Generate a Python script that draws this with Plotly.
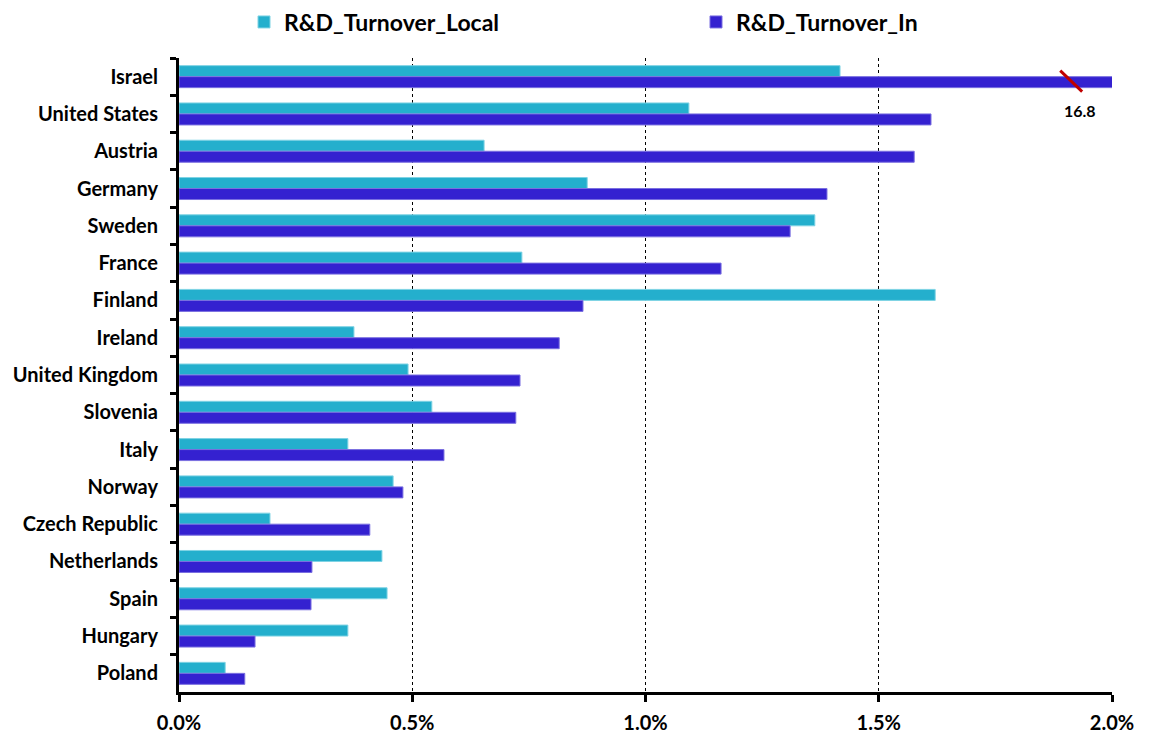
import plotly.graph_objects as go

countries = ["Israel", "United States", "Austria", "Germany", "Sweden", "France",
             "Finland", "Ireland", "United Kingdom", "Slovenia", "Italy", "Norway",
             "Czech Republic", "Netherlands", "Spain", "Hungary", "Poland"]
turnover_local = [1.417, 1.093, 0.654, 0.875, 1.363, 0.735, 1.621, 0.375, 0.491,
                  0.542, 0.362, 0.459, 0.195, 0.435, 0.446, 0.362, 0.099]
turnover_in = [16.8, 1.612, 1.576, 1.389, 1.310, 1.162, 0.866, 0.815, 0.731,
               0.722, 0.568, 0.480, 0.409, 0.285, 0.283, 0.163, 0.141]
x_ticks = [0.0, 0.5, 1.0, 1.5, 2.0]
x_max = 2.0

FONT = "Lato"

fig = go.Figure()
fig.add_trace(go.Bar(y=countries, x=turnover_local, orientation="h",
                     name="R&D_Turnover_Local", legend="legend",
                     marker=dict(color="#24AFCD", line=dict(color="#7FD3E4", width=1))))
fig.add_trace(go.Bar(y=countries, x=turnover_in, orientation="h",
                     name="R&D_Turnover_In", legend="legend2",
                     marker=dict(color="#3421D0", line=dict(color="#7A6FE0", width=1))))

# break mark on the clipped Israel bar and its true value
fig.add_shape(type="line", xref="x", yref="y", x0=1.889, x1=1.936, y0=-0.16, y1=0.40,
              line=dict(color="#C00000", width=3))
fig.add_annotation(x=1.931, y=0.91, xref="x", yref="y", text=f"{turnover_in[0]:.1f}",
                   showarrow=False, font=dict(family=FONT, size=16, color="black", weight="bold"))

legend_common = dict(orientation="h", xref="container", yref="paper",
                     xanchor="left", yanchor="middle", y=1.0568,
                     font=dict(family=FONT, size=23, color="black", weight="bold"),
                     itemwidth=30, bgcolor="rgba(0,0,0,0)")

fig.update_layout(
    width=1144, height=727,
    margin=dict(l=171, r=40, t=50, b=43, autoexpand=False),
    plot_bgcolor="white", paper_bgcolor="white",
    barmode="group", bargap=0.41, bargroupgap=0,
    font=dict(family=FONT, size=20, color="black", weight="bold"),
    legend=dict(x=0.2063, **legend_common),
    legend2=dict(x=0.6014, **legend_common),
    showlegend=True,
)
fig.update_xaxes(range=[0, x_max], tickvals=x_ticks, ticktext=[f"{v:.1f}%" for v in x_ticks],
                 showgrid=True, gridcolor="black", griddash="dot", gridwidth=1,
                 showline=True, linecolor="black", linewidth=3,
                 ticks="outside", ticklen=7, tickwidth=3, tickcolor="black",
                 zeroline=False, automargin=False, ticklabelstandoff=4,
                 tickfont=dict(family=FONT, size=20, weight="bold"))
fig.update_yaxes(autorange="reversed", type="category",
                 showline=True, linecolor="black", linewidth=3,
                 ticks="outside", ticklen=6, tickwidth=3, tickcolor="black",
                 tickson="boundaries", showgrid=False, automargin=False,
                 ticklabelstandoff=14,
                 tickfont=dict(family=FONT, size=20, weight="bold"))

fig.write_html("out.html")
